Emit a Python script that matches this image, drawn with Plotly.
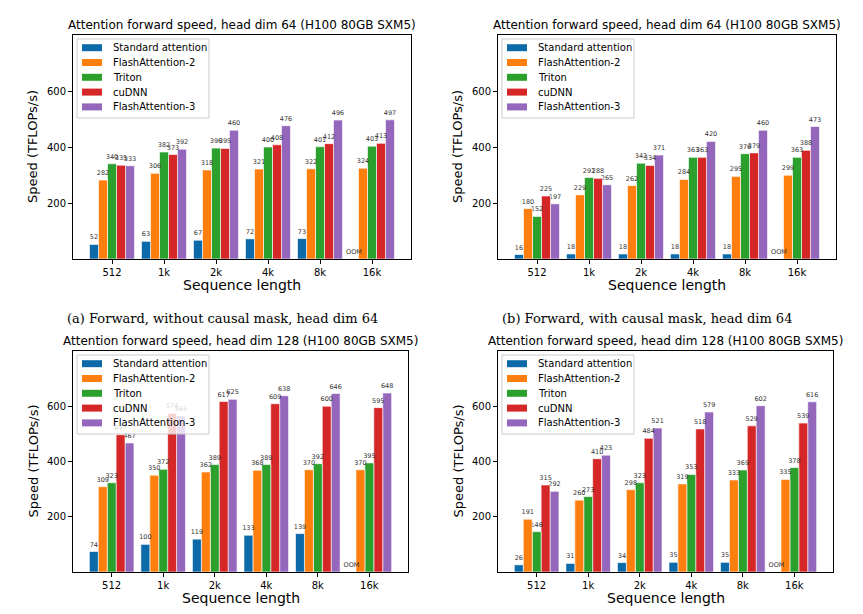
import plotly.graph_objects as go

# Reference pixel coordinates are measured in the 863x614 window; the page body has an
# 8px margin, so the figure is drawn 8px in and 16px smaller.
OFF = 8
W, H = 863 - 2 * OFF, 614 - 2 * OFF

seq_labels = ["512", "1k", "2k", "4k", "8k", "16k"]
series_names = ["Standard attention", "FlashAttention-2", "Triton", "cuDNN", "FlashAttention-3"]
series_colors = ["#0d6aa8", "#ff7f0e", "#2ca02c", "#d62728", "#9467bd"]

# (a) Forward, without causal mask, head dim 64
a_std = [52, 63, 67, 72, 73, None]
a_fa2 = [282, 306, 318, 321, 322, 324]
a_triton = [340, 382, 396, 400, 401, 403]
a_cudnn = [335, 373, 395, 408, 412, 413]
a_fa3 = [333, 392, 460, 476, 496, 497]

# (b) Forward, with causal mask, head dim 64
b_std = [16, 18, 18, 18, 18, None]
b_fa2 = [180, 229, 262, 284, 295, 299]
b_triton = [152, 291, 342, 363, 376, 363]
b_cudnn = [225, 288, 334, 363, 379, 388]
b_fa3 = [197, 265, 371, 420, 460, 473]

# (c) Forward, without causal mask, head dim 128
c_std = [74, 100, 119, 133, 139, None]
c_fa2 = [309, 350, 362, 368, 370, 370]
c_triton = [323, 372, 389, 389, 392, 395]
c_cudnn = [497, 574, 617, 609, 600, 595]
c_fa3 = [467, 565, 625, 638, 646, 648]

# (d) Forward, with causal mask, head dim 128
d_std = [26, 31, 34, 35, 35, None]
d_fa2 = [191, 260, 298, 319, 333, 335]
d_triton = [146, 273, 323, 353, 369, 378]
d_cudnn = [315, 410, 484, 518, 529, 539]
d_fa3 = [292, 423, 521, 579, 602, 616]

panel_titles = [
    "Attention forward speed, head dim 64 (H100 80GB SXM5)",
    "Attention forward speed, head dim 64 (H100 80GB SXM5)",
    "Attention forward speed, head dim 128 (H100 80GB SXM5)",
    "Attention forward speed, head dim 128 (H100 80GB SXM5)",
]
captions = [
    "(a) Forward, without causal mask, head dim 64",
    "(b) Forward, with causal mask, head dim 64",
]
y_ticks = [200, 400, 600]
y_max = 800

panels = [
    [a_std, a_fa2, a_triton, a_cudnn, a_fa3],
    [b_std, b_fa2, b_triton, b_cudnn, b_fa3],
    [c_std, c_fa2, c_triton, c_cudnn, c_fa3],
    [d_std, d_fa2, d_triton, d_cudnn, d_fa3],
]

# pixel boxes of each plot area in the window: (left, right, top, bottom)
boxes = [
    (73, 411, 35, 259),
    (498, 836, 35, 259),
    (73, 408, 351, 572),
    (498, 833, 351, 572),
]

BAR_W = 0.173
FONT = "DejaVu Sans"


def px(x):
    return (x - OFF) / W


def py(y):
    return 1 - (y - OFF) / H


fig = go.Figure()
annotations = []
shapes = []

for p, data in enumerate(panels):
    ax = "" if p == 0 else str(p + 1)
    # draw from last series to first so the low labels (incl. OOM) stay on top
    for s in reversed(range(len(data))):
        vals = data[s]
        yv = [0 if v is None else v for v in vals]
        tx = ["OOM" if v is None else str(v) for v in vals]
        fig.add_trace(go.Bar(
            x=seq_labels, y=yv, name=series_names[s], text=tx,
            width=BAR_W, offset=-2.5 * BAR_W + s * BAR_W,
            textposition="outside", constraintext="none", cliponaxis=False,
            textfont=dict(family=FONT, size=6.5, color="#333333"),
            marker=dict(color=series_colors[s], line=dict(color="white", width=0.6)),
            xaxis="x" + ax, yaxis="y" + ax, showlegend=False,
        ))
    l, r, t, b = boxes[p]
    axis_common = dict(showline=True, linecolor="black", linewidth=1, mirror=True,
                       ticks="outside", ticklen=4, tickwidth=1, tickcolor="black",
                       showgrid=False, zeroline=False,
                       tickfont=dict(family=FONT, size=10, color="black"))
    fig.update_layout(**{
        "xaxis" + ax: dict(domain=[px(l), px(r)], anchor="y" + ax, type="category",
                           range=[-0.75, 5.75], **axis_common),
        "yaxis" + ax: dict(domain=[py(b), py(t)], anchor="x" + ax, range=[0, y_max],
                           tickvals=y_ticks, **axis_common),
    })
    cx = (l + r) / 2
    annotations.append(dict(text=panel_titles[p], x=px(cx), y=py(t - 10),
                            xref="paper", yref="paper", showarrow=False,
                            xanchor="center", yanchor="middle",
                            font=dict(family=FONT, size=12, color="black")))
    annotations.append(dict(text="Sequence length", x=px(cx), y=py(b + 26),
                            xref="paper", yref="paper", showarrow=False,
                            xanchor="center", yanchor="middle",
                            font=dict(family=FONT, size=14, color="black")))
    annotations.append(dict(text="Speed (TFLOPs/s)", x=px(l - 40), y=py((t + b) / 2),
                            xref="paper", yref="paper", showarrow=False, textangle=-90,
                            xanchor="center", yanchor="middle",
                            font=dict(family=FONT, size=13, color="black")))
    if p < 2:
        annotations.append(dict(text=captions[p], x=px(cx - 20), y=py(b + 59),
                                xref="paper", yref="paper", showarrow=False,
                                xanchor="center", yanchor="middle",
                                font=dict(family="DejaVu Serif", size=13, color="black")))

    # legend box (matplotlib style)
    lx, ly = l + 4, t + 4
    shapes.append(dict(type="rect", xref="paper", yref="paper", layer="above",
                       x0=px(lx), x1=px(lx + 132), y0=py(ly + 79), y1=py(ly),
                       fillcolor="rgba(255,255,255,0.8)",
                       line=dict(color="#cccccc", width=1)))
    for s, name in enumerate(series_names):
        ey = ly + 8.7 + s * 14.8
        shapes.append(dict(type="rect", xref="paper", yref="paper", layer="above",
                           x0=px(lx + 5), x1=px(lx + 25), y0=py(ey + 3.5), y1=py(ey - 3.5),
                           fillcolor=series_colors[s], line=dict(width=0)))
        annotations.append(dict(text=name, x=px(lx + 34), y=py(ey),
                                xref="paper", yref="paper", showarrow=False,
                                xanchor="left", yanchor="middle",
                                font=dict(family=FONT, size=10, color="black")))

fig.update_layout(
    width=W, height=H, margin=dict(l=0, r=0, t=0, b=0),
    paper_bgcolor="white", plot_bgcolor="white",
    barmode="overlay", showlegend=False,
    annotations=annotations, shapes=shapes, font=dict(family=FONT),
)

fig.write_html("out.html")
